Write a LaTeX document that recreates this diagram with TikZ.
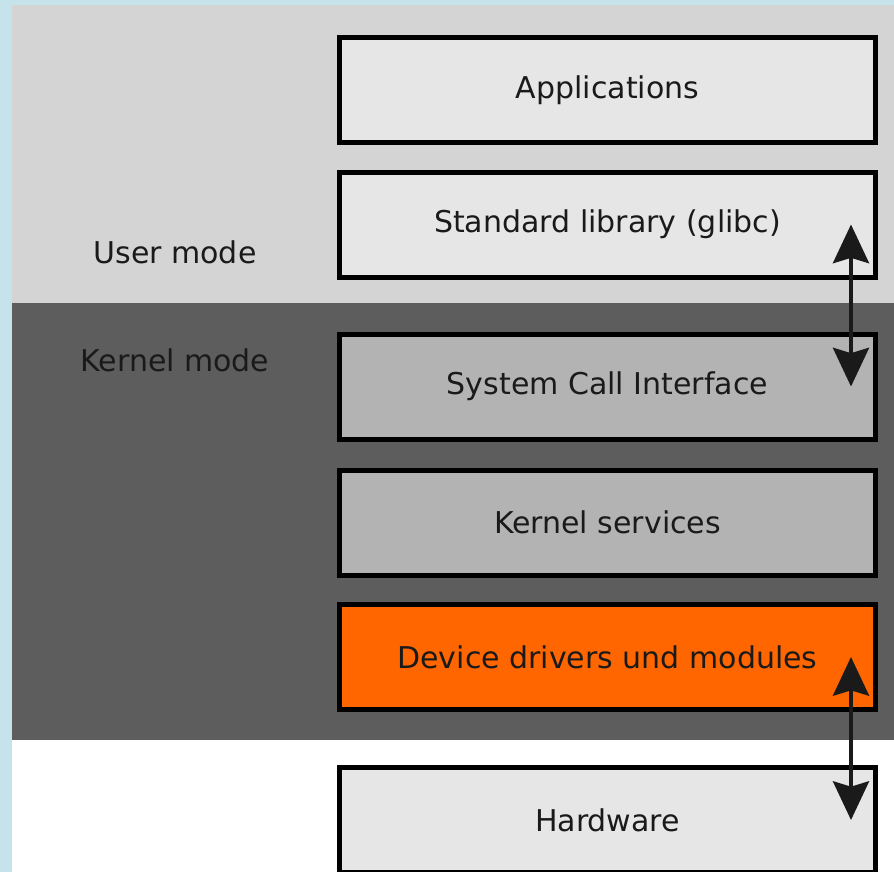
\documentclass[tikz,border=0pt]{standalone}
\usepackage{fontspec}
\setmainfont{DejaVu Sans}
\usepackage{tikz}
\usetikzlibrary{arrows.meta,positioning}

\definecolor{bgblue}{HTML}{C6E3EB}
\definecolor{userband}{HTML}{D4D4D4}
\definecolor{kernelband}{HTML}{5D5D5D}
\definecolor{boxlight}{HTML}{E6E6E6}
\definecolor{boxmid}{HTML}{B3B3B3}
\definecolor{driverorange}{HTML}{FF6600}
\definecolor{ink}{HTML}{1A1A1A}

\tikzset{
    layer/.style={draw=black, line width=3.75pt, minimum width=402pt, minimum height=78.75pt,
        inner sep=0pt, text=ink, font=\fontsize{22.5}{27}\selectfont},
    modelabel/.style={text=ink, font=\fontsize{22.5}{27}\selectfont},
    updown/.style={ink, line width=3pt, {Stealth[length=29pt,width=27pt,inset=4pt]}-{Stealth[length=29pt,width=27pt,inset=4pt]}}
}

\begin{document}
\begin{tikzpicture}[x=0.75pt, y=-0.75pt]
        \useasboundingbox (0,0) rectangle (894,872);
        \fill[bgblue] (0,0) rectangle (894,872);
        \fill[userband] (12,5) rectangle (894,303);
        \fill[kernelband] (12,303) rectangle (894,740);
        \fill[white] (12,740) rectangle (894,872);

        \node[modelabel] (user) at (175,252) {User mode};
        \node[modelabel] (kernel) at (175,360) {Kernel mode};

        \node[layer, fill=boxlight] (apps) at (607.5,90) {Applications};
        \node[layer, fill=boxlight] (lib) at (607.5,224.5) {Standard library (glibc)};
        \node[layer, fill=boxmid] (sci) at (607.5,386.5) {System Call Interface};
        \node[layer, fill=boxmid] (services) at (607.5,522.5) {Kernel services};
        \node[layer, fill=driverorange] (drivers) at (607.5,657) {Device drivers und modules};
        \node[layer, fill=boxlight] (hw) at (607.5,820) {Hardware};

        \draw[updown] ([xshift=-20.25pt]lib.east) -- ([xshift=-20.25pt]sci.east);
        \draw[updown] ([xshift=-20.25pt]drivers.east) -- ([xshift=-20.25pt]hw.east);

    \end{tikzpicture}
\end{document}
